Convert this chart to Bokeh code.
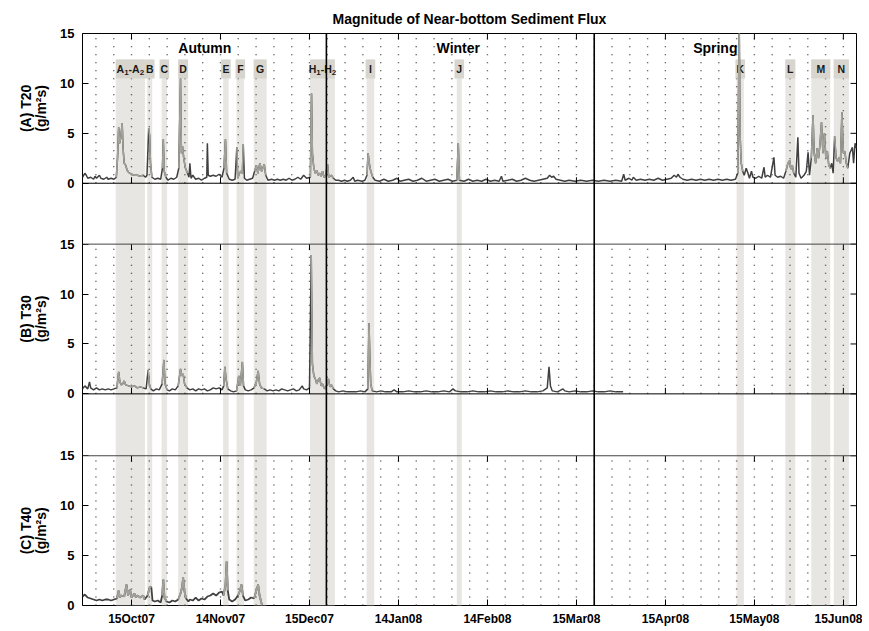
import numpy as np
from bokeh.plotting import figure
from bokeh.layouts import row
from bokeh.models import Range1d, FixedTicker, Span, BoxAnnotation, Label
from bokeh.core.properties import value
from bokeh.embed import file_html
from bokeh.resources import INLINE

# ---------------- data (x = days since 2007-10-01 00:00) ----------------
tick_labels = ["15Oct07", "14Nov07", "15Dec07", "14Jan08", "14Feb08",
               "15Mar08", "15Apr08", "15May08", "15Jun08"]
tick_days = [14.0, 44.5, 75.0, 105.5, 136.0, 166.5, 197.0, 227.5, 258.0]

season_names = ["Autumn", "Winter", "Spring"]
season_label_days = [39.1, 126.0, 214.1]
season_bounds = [80.8, 172.6]

event_names = ["A\u2081-A\u2082", "B", "C", "D", "E", "F", "G", "H\u2081-H\u2082",
               "I", "J", "K", "L", "M", "N"]
event_start = [8.6, 19.4, 24.3, 30.0, 45.4, 50.0, 55.9, 75.2, 94.6, 125.5, 221.4, 238.1, 247.0, 254.7]
event_end = [18.6, 21.1, 26.2, 33.4, 47.3, 52.6, 60.3, 83.7, 97.2, 127.2, 223.9, 241.5, 253.5, 259.9]

panel_names = ["(A) T20", "(B) T30", "(C) T40"]
unit_label = "(g/m\u00b2s)"
y_ticks = [0, 5, 10, 15]

# (A) T20 flux, g/m2/s
a_day = [-2.8, -2.0, -1.5, -1.0, 0.0, 1.0, 1.5, 2.0, 3.0, 3.5, 4.5, 5.5, 6.0, 7.0, 8.0, 8.8,
         9.2, 9.6, 9.9, 10.3, 10.8, 11.1, 11.5, 12.0, 12.5, 13.0, 14.0, 15.0, 16.0, 17.0, 18.0,
         18.8, 19.3, 19.9, 20.2, 20.5, 21.0, 22.0, 23.0, 24.0, 24.6, 24.9, 25.2, 25.8, 26.5,
         27.5, 28.5, 29.5, 30.2, 30.8, 31.1, 31.5, 31.9, 32.5, 33.2, 33.7, 34.0, 34.4, 35.0,
         36.0, 37.0, 38.0, 39.0, 39.8, 40.0, 40.3, 41.0, 42.0, 43.0, 44.0, 45.0, 45.7, 46.2,
         46.6, 47.5, 48.5, 49.5, 50.1, 50.4, 51.0, 51.5, 52.0, 52.3, 52.7, 53.5, 54.5, 55.5,
         56.2, 56.8, 57.3, 58.0, 58.6, 59.5, 60.0, 60.8, 62.0, 63.0, 64.0, 65.0, 66.0, 67.0,
         68.0, 69.0, 70.0, 71.0, 72.0, 73.0, 74.0, 75.3, 75.7, 76.0, 76.5, 77.0, 77.5, 78.0,
         78.5, 79.0, 79.5, 80.0, 80.5, 81.2, 81.6, 82.5, 83.2, 84.0, 85.0, 86.0, 87.0, 88.0,
         89.0, 90.0, 90.5, 91.5, 93.0, 94.0, 94.7, 95.1, 95.5, 96.0, 96.7, 97.5, 99.0, 100.5,
         102.0, 103.5, 105.0, 106.0, 107.5, 109.0, 110.5, 112.0, 113.5, 115.0, 116.5, 118.0,
         119.5, 121.0, 122.5, 124.0, 125.5, 126.0, 126.4, 128.0, 129.5, 131.0, 132.5, 134.0,
         135.5, 137.0, 138.5, 140.0, 140.8, 141.3, 143.0, 144.5, 146.0, 147.5, 149.0, 150.5,
         152.0, 153.5, 155.0, 156.5, 157.3, 158.0, 158.7, 159.5, 161.0, 162.5, 164.0, 166.0,
         168.0, 170.0, 172.0, 174.0, 176.0, 178.0, 180.0, 182.0, 182.7, 183.2, 184.5, 185.5,
         186.0, 187.0, 188.5, 190.0, 191.5, 193.0, 194.5, 196.0, 197.5, 199.0, 200.0, 200.8,
         201.3, 202.0, 203.0, 204.5, 206.0, 207.5, 209.0, 210.5, 212.0, 213.5, 215.0, 216.5,
         218.0, 219.5, 221.0, 221.8, 222.3, 222.6, 223.0, 223.5, 224.0, 224.7, 225.3, 225.8,
         226.5, 227.0, 228.0, 229.0, 230.0, 230.8, 231.2, 232.0, 233.0, 234.2, 234.6, 235.5,
         236.5, 237.5, 238.3, 239.0, 239.6, 240.0, 240.5, 241.0, 241.7, 242.4, 242.8, 243.5,
         244.5, 245.3, 245.9, 246.4, 247.0, 247.6, 248.0, 248.5, 249.0, 249.5, 250.0, 250.5,
         251.0, 251.5, 252.0, 252.5, 253.0, 253.5, 254.0, 254.5, 255.0, 255.5, 256.0, 256.5,
         257.0, 257.5, 258.0, 258.5, 259.0, 259.5, 260.2, 261.1, 261.5, 262.0, 262.5]
a_val = [0.6, 1.0, 0.8, 0.5, 0.6, 0.4, 0.7, 0.5, 0.8, 0.5, 0.4, 0.6, 0.4, 0.5, 0.4, 0.6,
         2.5, 5.6, 4.0, 4.5, 6.0, 3.5, 2.0, 1.8, 1.3, 1.1, 0.9, 0.8, 0.8, 0.7, 0.8,
         0.6, 0.8, 5.5, 4.8, 2.0, 0.6, 0.4, 0.5, 0.4, 1.5, 4.4, 1.2, 0.6, 0.3,
         0.5, 0.4, 0.6, 1.5, 10.5, 3.0, 3.7, 2.5, 1.5, 1.0, 0.6, 2.0, 0.5, 0.8,
         0.4, 0.5, 0.3, 0.5, 0.6, 4.0, 0.8, 0.7, 0.8, 0.7, 0.9, 0.6, 1.5, 4.4,
         1.0, 0.4, 0.3, 0.4, 3.6, 0.5, 1.0, 1.2, 1.0, 3.9, 0.5, 0.3, 0.4, 0.5,
         1.2, 1.8, 1.0, 2.0, 1.2, 1.9, 0.8, 0.3, 0.4, 0.3, 0.4, 0.3, 0.4, 0.3,
         0.5, 0.3, 0.4, 0.6, 0.4, 0.8, 0.5, 0.6, 9.0, 3.0, 1.5, 1.0, 1.3, 0.8,
         1.0, 0.7, 1.2, 0.6, 0.7, 1.9, 0.6, 0.8, 0.5, 0.3, 0.3, 0.2, 0.3, 0.2,
         0.3, 0.6, 0.2, 0.3, 0.2, 0.3, 0.8, 3.0, 2.0, 1.2, 0.6, 0.3, 0.2, 0.4,
         0.2, 0.3, 0.5, 0.2, 0.3, 0.4, 0.2, 0.3, 0.5, 0.2, 0.3, 0.4,
         0.2, 0.3, 0.4, 0.2, 0.3, 4.0, 0.3, 0.2, 0.4, 0.2, 0.3, 0.2,
         0.4, 0.2, 0.3, 0.2, 0.7, 0.2, 0.3, 0.4, 0.2, 0.3, 0.5, 0.3,
         0.2, 0.3, 0.4, 0.5, 0.8, 0.6, 0.7, 0.4, 0.3, 0.2, 0.3, 0.2,
         0.3, 0.2, 0.3, 0.2, 0.3, 0.2, 0.3, 0.2, 0.9, 0.3, 0.5, 0.3,
         0.6, 0.3, 0.4, 0.3, 0.4, 0.3, 0.5, 0.3, 0.4, 0.5, 0.8, 0.6,
         0.9, 0.6, 0.4, 0.3, 0.4, 0.3, 0.4, 0.3, 0.4, 0.3, 0.4, 0.3,
         0.4, 0.3, 0.4, 1.0, 16.0, 4.8, 2.0, 1.2, 0.8, 1.5, 1.0, 0.5,
         1.2, 0.6, 0.5, 0.7, 0.5, 1.6, 0.6, 0.8, 0.6, 2.6, 0.8, 0.6,
         0.7, 0.5, 1.2, 2.0, 2.3, 1.4, 1.8, 1.0, 0.6, 4.6, 1.0, 0.5,
         0.8, 1.2, 3.1, 0.8, 2.5, 6.8, 3.0, 2.0, 3.5, 2.5, 4.0, 6.1,
         3.0, 5.0, 2.5, 3.2, 1.8, 1.5, 2.0, 1.0, 4.7, 2.5, 2.2, 2.6,
         2.0, 7.1, 3.0, 3.2, 2.0, 1.5, 3.0, 3.6, 2.0, 4.0, 3.5]

# (B) T30 flux
b_day = [-2.8, -2.0, -1.0, -0.4, 0.0, 1.0, 2.0, 3.0, 4.0, 5.0, 6.0, 7.0, 8.0, 9.0, 9.6,
         10.0, 10.5, 11.0, 11.5, 12.0, 13.0, 14.0, 15.0, 16.0, 17.0, 18.0, 19.0, 19.7, 20.1,
         20.6, 21.5, 22.5, 23.5, 24.5, 25.1, 25.5, 26.2, 27.0, 28.0, 29.0, 30.0, 30.8, 31.2,
         31.7, 32.2, 33.0, 34.0, 35.0, 36.0, 37.0, 38.0, 39.0, 40.0, 41.0, 42.0, 43.0, 44.0,
         45.0, 45.6, 46.0, 46.4, 47.0, 48.0, 49.0, 50.0, 50.8, 51.3, 52.0, 52.4, 53.0, 54.0,
         55.0, 56.0, 56.8, 57.4, 57.9, 58.5, 59.5, 60.5, 61.5, 62.5, 63.5, 64.5, 65.5, 66.5,
         67.5, 68.5, 69.5, 70.5, 71.5, 72.5, 73.0, 74.0, 75.0, 75.6, 76.0, 76.5, 77.0, 77.5,
         78.0, 78.5, 79.0, 79.5, 80.0, 80.5, 81.5, 82.0, 82.5, 83.2, 84.0, 85.0, 86.5, 88.0,
         89.5, 91.0, 92.5, 94.0, 95.0, 95.4, 95.7, 96.0, 96.5, 98.0, 99.5, 101.0, 103.0, 104.0,
         105.0, 107.0, 109.0, 111.0, 113.0, 115.0, 117.0, 119.0, 121.0, 123.0, 124.2, 125.0,
         127.0, 129.0, 131.0, 133.0, 135.0, 137.0, 139.0, 141.0, 143.0, 145.0, 147.0, 149.0,
         151.0, 153.0, 155.0, 156.5, 157.1, 157.6, 158.2, 160.0, 161.9, 162.5, 164.0, 166.0,
         168.0, 170.0, 172.0, 174.0, 176.0, 178.0, 180.0, 182.5]
b_val = [0.5, 0.8, 0.5, 1.2, 0.6, 0.4, 0.6, 0.4, 0.5, 0.4, 0.5, 0.4, 0.5, 0.6, 2.2,
         1.2, 0.9, 1.0, 1.3, 0.9, 0.8, 0.7, 0.8, 0.6, 0.7, 0.6, 0.5, 2.4, 1.0,
         0.5, 0.3, 0.5, 0.4, 1.0, 3.4, 1.0, 0.4, 0.3, 0.5, 0.4, 0.8, 2.5, 1.8,
         2.0, 1.0, 0.6, 0.4, 0.5, 0.3, 0.5, 0.4, 0.5, 0.3, 0.4, 0.6, 0.5, 0.6,
         0.4, 0.8, 2.7, 1.5, 0.5, 0.3, 0.2, 0.3, 1.8, 0.8, 3.2, 0.8, 0.4, 0.3,
         0.4, 0.6, 1.2, 2.3, 1.0, 0.6, 0.5, 0.3, 0.4, 0.3, 0.4, 0.3, 0.5, 0.4,
         0.3, 0.4, 0.5, 0.3, 0.4, 0.8, 0.5, 0.4, 0.6, 13.9, 3.0, 1.8, 1.5, 1.0,
         1.4, 1.6, 0.8, 1.0, 0.6, 0.5, 1.5, 0.7, 0.9, 0.5, 0.3, 0.2, 0.3, 0.2,
         0.2, 0.2, 0.3, 0.2, 0.5, 7.1, 3.6, 1.0, 0.3, 0.2, 0.3, 0.2, 0.2, 0.4,
         0.2, 0.2, 0.3, 0.2, 0.2, 0.3, 0.2, 0.2, 0.3, 0.2, 0.5, 0.3,
         0.2, 0.2, 0.3, 0.2, 0.2, 0.3, 0.2, 0.2, 0.3, 0.2, 0.2, 0.3,
         0.2, 0.2, 0.3, 0.6, 2.7, 0.8, 0.3, 0.2, 0.5, 0.3, 0.2, 0.3,
         0.2, 0.2, 0.3, 0.2, 0.2, 0.3, 0.2, 0.2]

# (C) T40 flux
c_day = [-2.8, -2.0, -1.0, 0.0, 1.0, 2.0, 3.0, 4.0, 5.0, 6.0, 7.0, 8.0, 9.0, 9.6, 10.0,
         10.5, 11.5, 12.3, 12.8, 13.5, 14.0, 14.5, 15.0, 15.5, 16.0, 17.0, 18.0, 18.5, 19.5,
         20.3, 20.8, 21.2, 22.0, 23.0, 24.0, 24.5, 24.9, 25.3, 26.0, 27.0, 28.0, 29.0, 30.0,
         30.8, 31.3, 31.7, 32.1, 32.7, 33.5, 34.0, 35.0, 36.0, 37.0, 38.0, 39.0, 40.0, 41.0,
         42.0, 43.0, 44.0, 45.0, 45.5, 46.2, 46.6, 47.0, 47.5, 48.5, 49.5, 50.5, 51.2, 51.7,
         52.2, 53.0, 54.0, 55.0, 56.0, 56.8, 57.4, 57.9, 58.5, 58.8]
c_val = [0.9, 1.1, 0.8, 0.7, 0.6, 0.5, 0.6, 0.5, 0.6, 0.6, 0.5, 0.6, 0.7, 1.5, 0.8,
         1.0, 0.9, 2.1, 1.0, 1.6, 0.8, 1.0, 1.2, 0.8, 1.0, 0.8, 1.0, 0.6, 1.0,
         1.9, 1.8, 0.5, 0.4, 0.5, 0.3, 1.0, 2.6, 0.8, 0.4, 0.3, 0.5, 0.4, 0.6,
         1.2, 1.8, 2.8, 1.5, 0.7, 0.4, 0.6, 0.5, 0.8, 0.5, 0.7, 0.6, 0.9, 1.0,
         1.2, 1.0, 1.3, 1.4, 1.0, 2.0, 4.4, 1.5, 0.6, 0.4, 0.6, 1.0, 1.5, 2.1,
         1.0, 0.5, 0.6, 0.8, 0.7, 1.5, 2.1, 1.0, 0.3, 0.0]

# ---------------- layout constants ----------------
X0, X1 = -2.8, 262.5
PANEL_H = 15.0
offsets = [42.3, 21.2, 0.0]          # A, B, C baselines in the stacked frame
Y1 = offsets[0] + PANEL_H
FONT = "Liberation Sans"
DARK = "#404040"
LIGHT = "#a2a29a"
BAND = "#e8e6e2"
BOX = "#d8d5ce"
BOX_BOTTOM, BOX_TOP = 52.8, 54.7
PX_PER_DAY = 774 / (X1 - X0)
H = 628
TOP_B, BOT_B = 33, 22
LW_LABEL = 56
EV_FS, EV_SUB_FS = 10.5, 8.0          # event label font sizes (px)
CHAR_W = {"-": 0.333, "I": 0.278, "J": 0.556, "E": 0.667, "F": 0.611, "L": 0.611,
          "G": 0.778, "M": 0.833}     # Liberation Sans Bold advance widths (em)
SUBS = {"\u2081": "1", "\u2082": "2"}

yr = Range1d(0, Y1)

p = figure(width=862 - LW_LABEL, height=H, output_backend="svg", toolbar_location=None,
           x_range=Range1d(X0, X1), y_range=yr,
           min_border_left=82 - LW_LABEL, min_border_right=6,
           min_border_top=TOP_B, min_border_bottom=BOT_B,
           title="Magnitude of Near-bottom Sediment Flux")
p.title.align = "center"
p.title.text_font = FONT
p.title.text_font_size = "14px"
p.title.text_font_style = "bold"
p.title.text_color = "black"
p.title.standoff = 13
p.xgrid.visible = False
p.ygrid.visible = False
p.outline_line_color = "black"
p.outline_line_width = 1
p.background_fill_color = "white"
p.border_fill_color = "white"

# shaded event bands (from label box down to bottom)
for s, e in zip(event_start, event_end):
    p.add_layout(BoxAnnotation(left=s, right=e, top=BOX_TOP, fill_color=BAND, fill_alpha=1.0,
                               line_color=None, level="underlay"))

# dotted vertical grid inside each panel
step = (tick_days[1] - tick_days[0]) / 5.0
gd = tick_days[0] + step * np.arange(-5, 50)
gd = gd[(gd > X0 + 0.5) & (gd < X1 - 0.5)]
gx = np.repeat(gd, 3)
gy0 = np.tile(offsets, len(gd))
p.segment(gx, gy0, gx, gy0 + PANEL_H, line_color="#444444", line_width=1.4, line_dash="1 7")

# label boxes
ev_s = np.array(event_start)
ev_e = np.array(event_end)
ev_c = (ev_s + ev_e) / 2
min_w = 3.3
bl = np.minimum(ev_s, ev_c - min_w / 2)
br = np.maximum(ev_e, ev_c + min_w / 2)
p.quad(left=bl, right=br, bottom=BOX_BOTTOM, top=BOX_TOP, fill_color=BOX, line_color=None)

# event label texts: split into normal / subscript pieces, laid out left to right
px_, txt_, xo_, yo_, fs_ = [], [], [], [], []
for name, xc in zip(event_names, ev_c):
    pieces = []
    for ch in name:
        sub = ch in SUBS
        c = SUBS.get(ch, ch)
        fs = EV_SUB_FS if sub else EV_FS
        w = (0.556 if c.isdigit() else CHAR_W.get(c, 0.722)) * fs
        pieces.append((c, sub, fs, w))
    total = sum(pc[3] for pc in pieces)
    cur = -total / 2
    for c, sub, fs, w in pieces:
        px_.append(xc)
        txt_.append(c)
        xo_.append(cur)
        yo_.append(3.5 if sub else 0.0)
        fs_.append(f"{fs}px")
        cur += w
p.text(x=px_, y=(BOX_BOTTOM + BOX_TOP) / 2 - 0.05, text=txt_, x_offset=xo_, y_offset=yo_,
       text_font=value(FONT), text_font_style="bold", text_font_size=fs_, text_align="left",
       text_baseline="middle", text_color="#1a1a1a")

# data lines
for days, vals, off, lw in ((a_day, a_val, offsets[0], 1.5),
                            (b_day, b_val, offsets[1], 1.5),
                            (c_day, c_val, offsets[2], 1.8)):
    d = np.array(days)
    y = np.array(vals) + off
    p.line(d, y, line_color=DARK, line_width=lw)
    for s, e in zip(event_start, event_end):
        m = (d >= s) & (d <= e)
        if m.sum() >= 2:
            p.line(d[m], y[m], line_color=LIGHT, line_width=lw)

# panel separators
for yv, col in ((offsets[0], "black"), (offsets[1] + PANEL_H, "#444444"),
                (offsets[1], "black"), (offsets[2] + PANEL_H, "#444444")):
    p.add_layout(Span(location=yv, dimension="width", line_color=col, line_width=1))

# season boundaries
for sb in season_bounds:
    p.add_layout(Span(location=sb, dimension="height", line_color="black", line_width=1.6))

# inner tick marks on panel edges (x) and right side (y)
tk = 0.6
tx = np.array(tick_days)
for top in (offsets[0] + PANEL_H, offsets[1] + PANEL_H, offsets[2] + PANEL_H):
    p.segment(tx, top, tx, top - tk, line_color="black", line_width=1)
for bot in (offsets[0], offsets[1]):
    p.segment(tx, bot, tx, bot + tk, line_color="black", line_width=1)
ypos = np.array([off + v for off in offsets for v in y_ticks], dtype=float)
rx = 6 / PX_PER_DAY
p.segment(X1 - rx, ypos, X1, ypos, line_color="black", line_width=1)

# axes
yax = p.yaxis[0]
yax.ticker = FixedTicker(ticks=list(ypos), minor_ticks=[])
yax.major_label_overrides = {float(off + v): str(v) for off in offsets for v in y_ticks}
yax.major_tick_in = 6
yax.major_tick_out = 0
yax.minor_tick_in = 0
yax.minor_tick_out = 0
yax.axis_line_color = None
yax.major_tick_line_color = "black"
yax.major_label_standoff = 8
yax.major_label_text_font = FONT
yax.major_label_text_font_size = "13px"
yax.major_label_text_font_style = "bold"
yax.major_label_text_color = "black"

xax = p.xaxis[0]
xax.ticker = FixedTicker(ticks=tick_days, minor_ticks=[])
xax.major_label_overrides = dict(zip(tick_days, tick_labels))
xax.major_tick_in = 6
xax.major_tick_out = 0
xax.minor_tick_in = 0
xax.minor_tick_out = 0
xax.axis_line_color = None
xax.major_tick_line_color = "black"
xax.major_label_standoff = 6
xax.major_label_text_font = FONT
xax.major_label_text_font_size = "12px"
xax.major_label_text_font_style = "bold"
xax.major_label_text_color = "black"

# season labels
for name, xd in zip(season_names, season_label_days):
    p.add_layout(Label(x=xd, y=55.8, text=name, text_align="center", text_baseline="middle",
                       text_font=FONT, text_font_size="14px", text_font_style="bold",
                       text_color="black"))

# ---- narrow companion figure carrying the rotated panel labels ----
lf = figure(width=LW_LABEL, height=H, output_backend="svg", toolbar_location=None,
            x_range=Range1d(0, LW_LABEL), y_range=yr,
            x_axis_location=None, y_axis_location=None,
            min_border_left=0, min_border_right=0, min_border_top=TOP_B, min_border_bottom=BOT_B)
lf.grid.visible = False
lf.outline_line_color = None
lf.background_fill_color = "white"
lf.border_fill_color = "white"
centers = [off + PANEL_H / 2 for off in offsets]
lf.text(x=[25] * 3, y=centers, text=panel_names, angle=np.pi / 2, text_align="center",
        text_baseline="middle", text_font=value(FONT), text_font_size="14px",
        text_font_style="bold", text_color="black")
lf.text(x=[40] * 3, y=centers, text=[unit_label] * 3, angle=np.pi / 2, text_align="center",
        text_baseline="middle", text_font=value(FONT), text_font_size="14px",
        text_font_style="bold", text_color="black")

open("out.html", "w").write(file_html(row(lf, p), INLINE))
